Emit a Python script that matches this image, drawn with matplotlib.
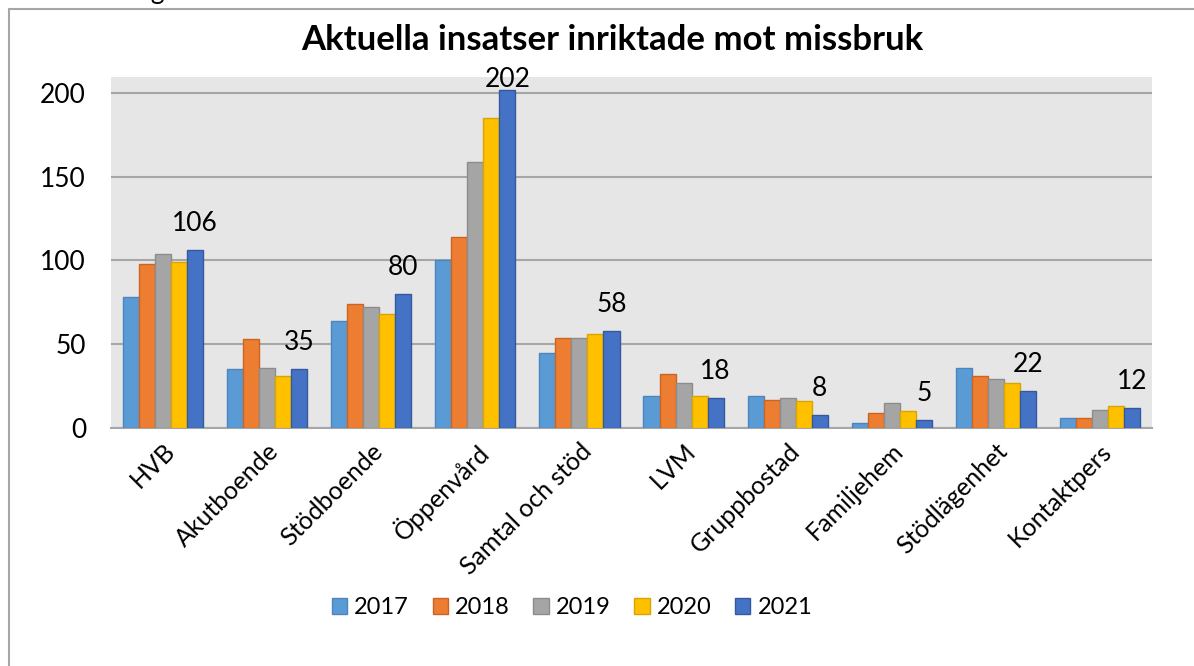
import matplotlib
matplotlib.use("Agg")
import matplotlib.pyplot as plt
import numpy as np
from matplotlib.patches import Rectangle

categories = ["HVB", "Akutboende", "Stödboende", "Öppenvård", "Samtal och stöd",
              "LVM", "Gruppbostad", "Familjehem", "Stödlägenhet", "Kontaktpers"]
years = ["2017", "2018", "2019", "2020", "2021"]
v2017 = [78, 35, 64, 100, 45, 19, 19, 3, 36, 6]
v2018 = [98, 53, 74, 114, 54, 32, 17, 9, 31, 6]
v2019 = [104, 36, 72, 159, 54, 27, 18, 15, 29, 11]
v2020 = [99, 31, 68, 185, 56, 19, 16, 10, 27, 13]
v2021 = [106, 35, 80, 202, 58, 18, 8, 5, 22, 12]
series = [v2017, v2018, v2019, v2020, v2021]
colors = ["#5B9BD5", "#ED7D31", "#A5A5A5", "#FFC000", "#4472C4"]
edges = ["#4A85BD", "#C96524", "#8C8C8C", "#D9A300", "#35599E"]
yticks = [0, 50, 100, 150, 200]

plt.rcParams['font.family'] = ['Lato', 'DejaVu Sans']

W, H = 1194, 666
fig = plt.figure(figsize=(W / 100, H / 100), dpi=100)
fig.patch.set_facecolor("white")

# outer chart frame (cropped at right/bottom)
fig.add_artist(Rectangle((9 / W, -0.1), 1.2, (H - 9) / H + 0.1, transform=fig.transFigure,
                         fill=False, edgecolor="#A6A6A6", linewidth=1.5))
fig.text(150 / W, 1 + 1 / H, "ng", fontsize=19, ha="center", va="baseline", color="black")

left, right, top, bottom = 111, 1152, 77, 428
ax = fig.add_axes([left / W, 1 - bottom / H, (right - left) / W, (bottom - top) / H])
ax.set_facecolor("#E7E6E6")

n = len(categories)
x = np.arange(n)
bw = 0.154
for i, (vals, c, ec, yr) in enumerate(zip(series, colors, edges, years)):
    off = (i - 2) * bw
    ax.bar(x + off, vals, width=bw, color=c, edgecolor=ec, linewidth=1.0, label=yr, zorder=3)
    if i == 4:
        for xi, v in zip(x + off, vals):
            ax.text(xi, min(v + 11.3, 203.6), str(v), ha="center", va="baseline",
                    fontsize=19, color="black", zorder=4, clip_on=False)

ax.set_xlim(-0.5, n - 0.5)
ax.set_ylim(0, 209.5)
ax.set_yticks(yticks)
ax.set_yticklabels([str(t) for t in yticks], fontsize=19)
ax.yaxis.grid(True, color="#A6A6A6", linewidth=1.5, zorder=0)
ax.tick_params(axis="y", length=0, pad=18)
ax.tick_params(axis="x", length=0, pad=8)
ax.set_xticks(x)
ax.set_xticklabels(categories, rotation=45, ha="right", rotation_mode="anchor", fontsize=18)
for s in ["top", "right", "left"]:
    ax.spines[s].set_visible(False)
ax.spines["bottom"].set_color("#A6A6A6")
ax.spines["bottom"].set_linewidth(1.5)

fig.text(612 / W, 1 - 40 / H, "Aktuella insatser inriktade mot missbruk", ha="center", va="center",
         fontsize=25, fontweight="bold")

leg = fig.legend(loc="center", bbox_to_anchor=(572 / W, 1 - 608 / H), ncol=5, frameon=False,
                 fontsize=17, handlelength=0.65, handleheight=0.65, handletextpad=0.3, columnspacing=1.0)

fig.savefig("out.png", dpi=100)
